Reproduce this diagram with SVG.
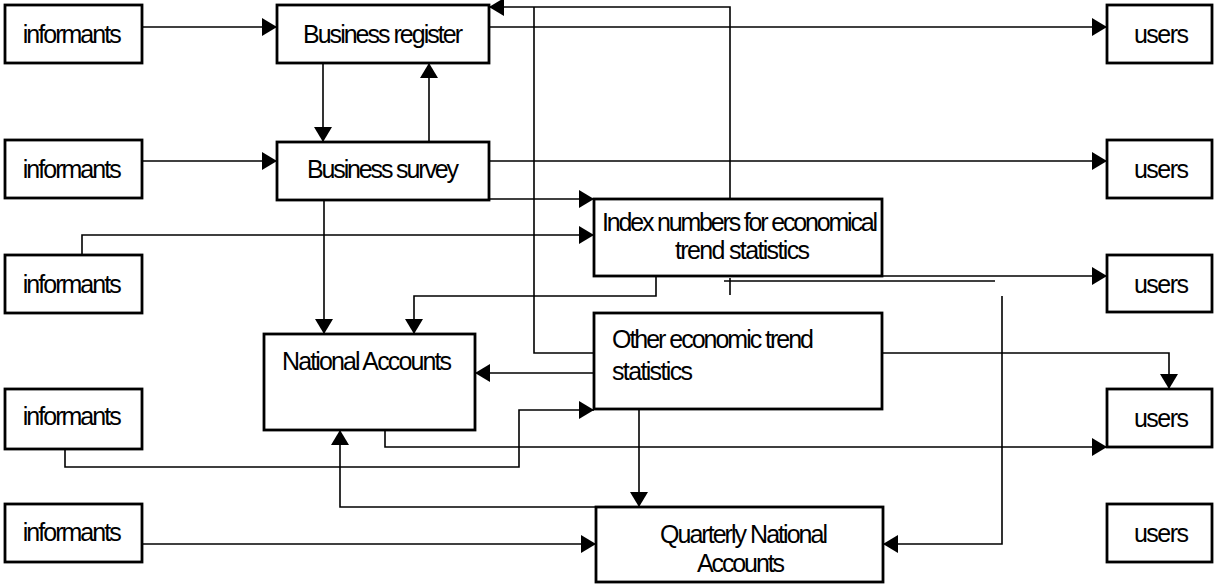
<svg xmlns="http://www.w3.org/2000/svg" width="1215" height="585" viewBox="0 0 1215 585">
<style>
.box{fill:#fff;stroke:#000;stroke-width:2.8}
.t{font-family:"Liberation Sans",Arial,sans-serif;font-size:25px;fill:#000}
.c{fill:none;stroke:#000;stroke-width:1.6}
.a{marker-end:url(#ah)}
</style>
<defs>
<marker id="ah" markerUnits="userSpaceOnUse" markerWidth="16" markerHeight="18" refX="15" refY="9" orient="auto">
<path d="M0,0 L15,9 L0,18 Z" fill="#000"/>
</marker>
</defs>
<rect width="1215" height="585" fill="#fff"/>
<g id="connectors">
<path class="c a" d="M142,27 H277"/>
<path class="c a" d="M489,27 H1107"/>
<path class="c a" d="M323,63 V142"/>
<path class="c a" d="M429,142 V63"/>
<path class="c a" d="M142,161 H277"/>
<path class="c a" d="M489,161 H1107"/>
<path class="c a" d="M489,199 H594"/>
<path class="c a" d="M82,255 V235 H594"/>
<path class="c a" d="M730,199 V7 H489"/>
<path class="c" d="M594,353 H534 V7"/>
<path class="c a" d="M324,200 V334"/>
<path class="c a" d="M656,276 V296 H414 V334"/>
<path class="c a" d="M594,373 H475"/>
<path class="c a" d="M882,276 H1107"/>
<path class="c" d="M724,281 H995"/>
<path class="c" d="M730,278 V295"/>
<path class="c a" d="M1002,296 V544 H883"/>
<path class="c a" d="M882,353 H1169 V389"/>
<path class="c a" d="M65,450 V467 H519 V410 H594"/>
<path class="c a" d="M385,430 V447 H1107"/>
<path class="c a" d="M597,507 H340 V430"/>
<path class="c a" d="M142,544 H596"/>
<path class="c a" d="M639,409 V507"/>
</g>
<g id="inf1"><rect class="box" x="5" y="5" width="137" height="58"/><text class="t" x="22.7" y="42.5" textLength="99">informants</text></g>
<g id="inf2"><rect class="box" x="5" y="140" width="137" height="58"/><text class="t" x="22.7" y="177.5" textLength="99">informants</text></g>
<g id="inf3"><rect class="box" x="5" y="255" width="137" height="58"/><text class="t" x="22.7" y="292.5" textLength="99">informants</text></g>
<g id="inf4"><rect class="box" x="5" y="389" width="137" height="60"/><text class="t" x="22.7" y="425" textLength="99">informants</text></g>
<g id="inf5"><rect class="box" x="5" y="504" width="137" height="58"/><text class="t" x="22.7" y="541" textLength="99">informants</text></g>
<g id="users1"><rect class="box" x="1107" y="5" width="105" height="58"/><text class="t" x="1134" y="43" textLength="55">users</text></g>
<g id="users2"><rect class="box" x="1107" y="140" width="105" height="58"/><text class="t" x="1134" y="178" textLength="55">users</text></g>
<g id="users3"><rect class="box" x="1107" y="255" width="105" height="57"/><text class="t" x="1134" y="293" textLength="55">users</text></g>
<g id="users4"><rect class="box" x="1107" y="389" width="105" height="58"/><text class="t" x="1134" y="427" textLength="55">users</text></g>
<g id="users5"><rect class="box" x="1107" y="504" width="105" height="58"/><text class="t" x="1134" y="542" textLength="55">users</text></g>
<g id="business-register"><rect class="box" x="277" y="5" width="212" height="58"/><text class="t" x="303" y="42.5" textLength="160">Business register</text></g>
<g id="business-survey"><rect class="box" x="277" y="142" width="212" height="58"/><text class="t" x="307" y="177.5" textLength="152">Business survey</text></g>
<g id="index-numbers"><rect class="box" x="594" y="199" width="288" height="77"/><text class="t" x="602" y="231" textLength="276">Index numbers for economical</text><text class="t" x="675" y="259" textLength="135">trend statistics</text></g>
<g id="other-stats"><rect class="box" x="594" y="313" width="288" height="96"/><text class="t" x="612" y="348" textLength="202">Other economic trend</text><text class="t" x="612" y="380" textLength="81">statistics</text></g>
<g id="national-accounts"><rect class="box" x="264" y="334" width="211" height="96"/><text class="t" x="282" y="370" textLength="170">National Accounts</text></g>
<g id="quarterly-na"><rect class="box" x="596" y="507" width="287" height="75"/><text class="t" x="660" y="543" textLength="168">Quarterly National</text><text class="t" x="697" y="572" textLength="88">Accounts</text></g>
</svg>
